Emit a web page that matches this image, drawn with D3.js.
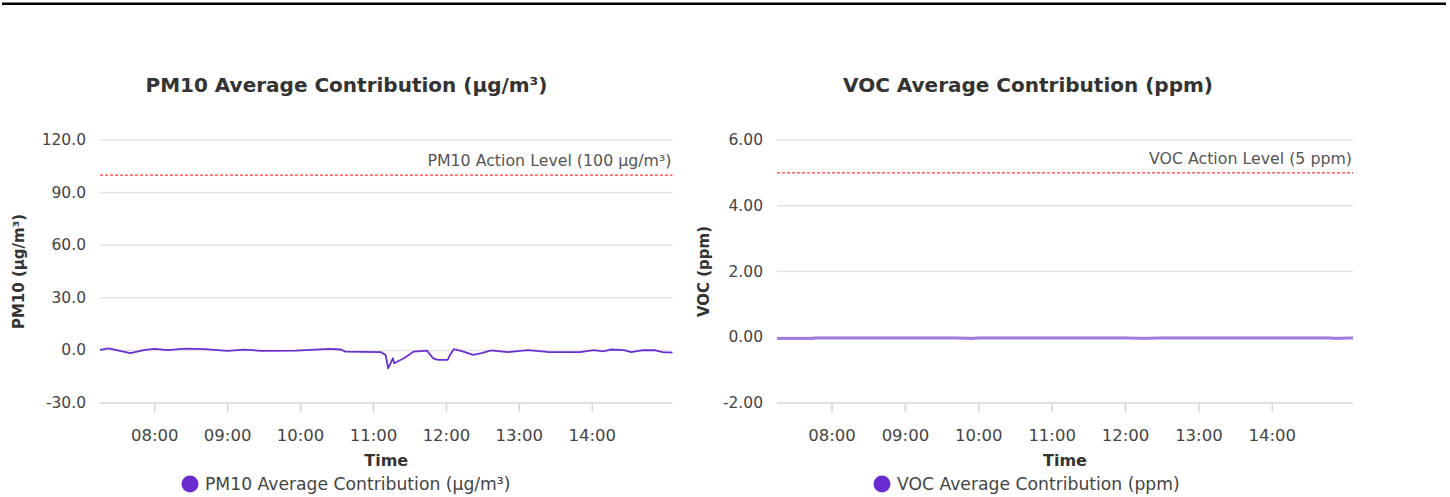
<!DOCTYPE html>
<html><head><meta charset="utf-8">
<script src="https://cdn.jsdelivr.net/npm/d3@7"></script>
<style>body{margin:0;background:#fff;} svg{display:block;font-family:"DejaVu Sans",Verdana,sans-serif;}</style>
</head><body>
<svg id="c" width="1450" height="497"></svg>
<script>
// ---- data ----
const pmTimes = ["07:15","07:22","07:40","07:52","08:00","08:11","08:25","08:41","09:00","09:14","09:28","09:56","10:24","10:33","10:37","11:06","11:10","11:12","11:16","11:17","11:25","11:33","11:44","11:49","11:53","12:01","12:03","12:06","12:12","12:22","12:29","12:36","12:39","12:50","13:07","13:23","13:50","14:01","14:09","14:15","14:26","14:32","14:42","14:51","14:58","15:06"];
const pmValues = [0.3,1.2,-1.6,0.3,0.9,0.1,1.0,0.7,-0.3,0.5,-0.3,-0.1,0.9,0.5,-0.7,-1.0,-2.6,-10.2,-4.5,-7.3,-4.5,-0.7,-0.1,-4.5,-5.4,-5.4,-2.6,0.7,-0.3,-2.6,-1.6,-0.1,-0.1,-1.0,0.1,-0.9,-1.0,0.1,-0.5,0.5,0.1,-1.0,0.1,0.1,-1.0,-1.3];
const vocTimes = ["07:15","07:45","07:46","08:30","09:40","09:55","10:00","11:00","12:00","12:15","12:30","13:30","14:45","14:52","15:06"];
const vocValues = [-0.04,-0.04,-0.02,-0.02,-0.02,-0.04,-0.02,-0.02,-0.02,-0.04,-0.02,-0.02,-0.02,-0.04,-0.02];
const pmTicks = [-30,0,30,60,90,120];
const vocTicks = [-2,0,2,4,6];
const xTickLabels = ["08:00","09:00","10:00","11:00","12:00","13:00","14:00"];
const timeDomain = ["07:15","15:06"];
const pmAction = 100, vocAction = 5;

const hy = f => d => f(d).replace("\u2212","-");
const charts = [
  {title:"PM10 Average Contribution (µg/m³)", yTitle:"PM10 (µg/m³)", legend:"PM10 Average Contribution (µg/m³)",
   action:pmAction, actionLabel:"PM10 Action Level (100 µg/m³)", times:pmTimes, values:pmValues, ticks:pmTicks, fmt:hy(d3.format(".1f")),
   x0:100, x1:672.5, titleX:346.5, yTitleX:18, legendX:190, line:{w:1.8, color:"#6a2fd2", op:1}},
  {title:"VOC Average Contribution (ppm)", yTitle:"VOC (ppm)", legend:"VOC Average Contribution (ppm)",
   action:vocAction, actionLabel:"VOC Action Level (5 ppm)", times:vocTimes, values:vocValues, ticks:vocTicks, fmt:hy(d3.format(".2f")),
   x0:777, x1:1353, titleX:1028, yTitleX:703, legendX:882, line:{w:3, color:"#6a2fd2", op:0.6}}
];

const parse = s => { const [h,m] = s.split(":").map(Number); return new Date(2024,0,1,h,m); };
const svg = d3.select("#c");

// top rule
svg.append("rect").attr("x",2).attr("y",2.5).attr("width",1444).attr("height",2.5).attr("fill","#000");

const yTop = 140, yBot = 403;

charts.forEach(c => {
  const g = svg.append("g");
  const x = d3.scaleTime().domain(timeDomain.map(parse)).range([c.x0, c.x1]);
  const y = d3.scaleLinear().domain([d3.min(c.ticks), d3.max(c.ticks)]).range([yBot, yTop]);

  // title
  g.append("text").attr("x",c.titleX).attr("y",92).attr("text-anchor","middle")
    .attr("font-weight","bold").attr("font-size",20).attr("fill","#333").text(c.title);

  // grid
  g.selectAll("line.grid").data(c.ticks).enter().append("line")
    .attr("x1",c.x0).attr("x2",c.x1).attr("y1",d=>y(d)).attr("y2",d=>y(d))
    .attr("stroke", d => d===d3.min(c.ticks) ? "#d6d6d6" : "#e3e3e3").attr("stroke-width",1.5);

  // y tick labels
  g.selectAll("text.yt").data(c.ticks).enter().append("text")
    .attr("x",c.x0-14).attr("y",d=>y(d)+5).attr("text-anchor","end")
    .attr("font-size",15.5).attr("fill","#444").text(d=>c.fmt(d));

  // x ticks
  const xt = xTickLabels.map(parse);
  g.selectAll("line.xt").data(xt).enter().append("line")
    .attr("x1",d=>x(d)).attr("x2",d=>x(d)).attr("y1",yBot).attr("y2",yBot+9)
    .attr("stroke","#d6d6d6").attr("stroke-width",1.5);
  g.selectAll("text.xt").data(xt).enter().append("text")
    .attr("x",d=>x(d)).attr("y",441).attr("text-anchor","middle")
    .attr("font-size",16.5).attr("fill","#444").text((d,i)=>xTickLabels[i]);

  // axis titles
  g.append("text").attr("x",(c.x0+c.x1)/2).attr("y",466).attr("text-anchor","middle")
    .attr("font-weight","bold").attr("font-size",16).attr("fill","#333").text("Time");
  g.append("text").attr("transform",`translate(${c.yTitleX+6},${(yTop+yBot)/2}) rotate(-90)`)
    .attr("text-anchor","middle").attr("font-weight","bold").attr("font-size",15).attr("fill","#333").text(c.yTitle);

  // action level
  g.append("line").attr("x1",c.x0).attr("x2",c.x1).attr("y1",y(c.action)).attr("y2",y(c.action))
    .attr("stroke","#ff3b3b").attr("stroke-width",1.2).attr("stroke-dasharray","3,2");
  g.append("text").attr("x",c.x1-1).attr("y",y(c.action)-9).attr("text-anchor","end")
    .attr("font-size",15.8).attr("fill","#555").text(c.actionLabel);

  // series line
  const pts = c.times.map((t,i)=>({t:parse(t), v:c.values[i]}));
  g.append("path").datum(pts)
    .attr("d", d3.line().x(d=>x(d.t)).y(d=>y(d.v)))
    .attr("fill","none").attr("stroke",c.line.color).attr("stroke-opacity",c.line.op)
    .attr("stroke-width",c.line.w).attr("stroke-linejoin","round");

  // legend
  g.append("circle").attr("cx",c.legendX).attr("cy",484).attr("r",8.5).attr("fill","#6a2ccf");
  g.append("text").attr("x",c.legendX+15).attr("y",490).attr("font-size",17.2).attr("fill","#444").text(c.legend);
});
</script>
</body></html>
